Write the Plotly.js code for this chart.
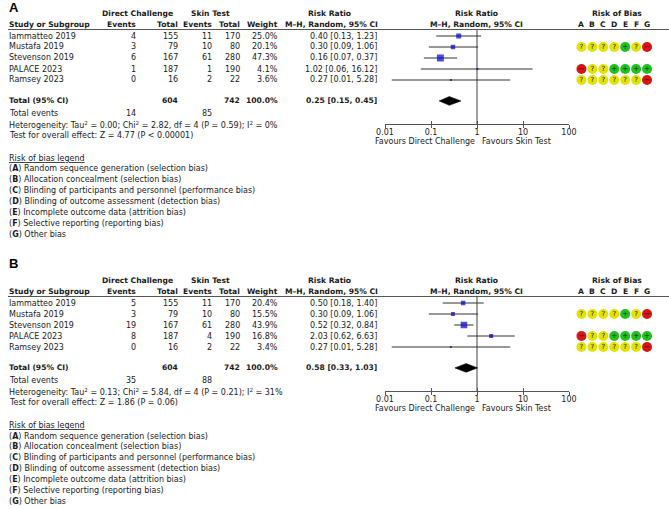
<!DOCTYPE html>
<html><head><meta charset="utf-8">
<script src="https://cdn.plot.ly/plotly-3.0.1.min.js"></script>
<style>html,body{margin:0;padding:0;background:#fff}</style>
</head><body><div id="chart" style="width:669px;height:509px"></div>
<script>
// ---------------- data ----------------
const studies = ['Iammatteo 2019', 'Mustafa 2019', 'Stevenson 2019', 'PALACE 2023', 'Ramsey 2023'];
const dcTotal = [155, 79, 167, 187, 16];
const stTotal = [170, 80, 280, 190, 22];
const grandTotals = [604, 742];
const totalWeight = 100.0;

// Panel A
const dcEventsA = [4, 3, 6, 1, 0];
const stEventsA = [11, 10, 61, 1, 2];
const weightA = [25.0, 20.1, 47.3, 4.1, 3.6];
const rrA = [0.40, 0.30, 0.16, 1.02, 0.27];
const lowA = [0.13, 0.09, 0.07, 0.06, 0.014];
const highA = [1.23, 1.06, 0.37, 16.12, 5.28];
const pooledA = [0.25, 0.15, 0.45];
const totalEventsA = [14, 85];
const hetA = ['0.00', '2.82', '4', '0.59', '0%'];
const zA = ['4.77', 'P < 0.00001'];

// Panel B
const dcEventsB = [5, 3, 19, 8, 0];
const stEventsB = [11, 10, 61, 4, 2];
const weightB = [20.4, 15.5, 43.9, 16.8, 3.4];
const rrB = [0.50, 0.30, 0.52, 2.03, 0.27];
const lowB = [0.18, 0.09, 0.32, 0.62, 0.014];
const highB = [1.40, 1.06, 0.84, 6.63, 5.28];
const pooledB = [0.58, 0.33, 1.03];
const totalEventsB = [35, 88];
const hetB = ['0.13', '5.84', '4', '0.21', '31%'];
const zB = ['1.86', 'P = 0.06'];

// Risk of bias
const robDomains = ['A', 'B', 'C', 'D', 'E', 'F', 'G'];
const robJudgements = [null, ['?','?','?','?','+','?','-'], null, ['-','?','?','+','+','+','+'], ['?','?','?','?','?','?','-']];
const robLegend = ['Random sequence generation (selection bias)', 'Allocation concealment (selection bias)',
  'Blinding of participants and personnel (performance bias)', 'Blinding of outcome assessment (detection bias)',
  'Incomplete outcome data (attrition bias)', 'Selective reporting (reporting bias)', 'Other bias'];
const axisTicks = [0.01, 0.1, 1, 10, 100];
const axisTickText = ['0.01', '0.1', '1', '10', '100'];

// ---------------- layout helpers ----------------
const W = 669, H = 509;
const FONT = 'DejaVu Sans';
const FS = 8;
const TXT = '#1a1a1a';
const X = p => p / W;
const Y = p => 1 - p / H;
const rowPy = r => 36 + 11 * r;
const robColor = {'?': '#e3e300', '+': '#1fc21f', '-': '#d81414'};
const robGlyph = {'?': '?', '+': '+', '-': '\u2212'};

const annotations = [];
const shapes = [];
const traces = [];
function ann(text, x, py, xanchor, opts) {
  annotations.push(Object.assign({
    text: text, xref: 'paper', yref: 'paper', x: X(x), y: Y(py), xanchor: xanchor, yanchor: 'middle',
    showarrow: false, borderpad: 0, font: {family: FONT, size: FS, color: TXT}
  }, opts || {}));
}
const bold = s => '<b>' + s + '</b>';
const BFONT = {family: FONT, size: 7.6, color: TXT};

const panels = [
  {label: 'A', off: 0, dcE: dcEventsA, stE: stEventsA, w: weightA, rr: rrA, lo: lowA, hi: highA,
   pooled: pooledA, te: totalEventsA, het: hetA, z: zA, xa: 'x', ya: 'y', xo: 'x3', xr: 'x5'},
  {label: 'B', off: 267, dcE: dcEventsB, stE: stEventsB, w: weightB, rr: rrB, lo: lowB, hi: highB,
   pooled: pooledB, te: totalEventsB, het: hetB, z: zB, xa: 'x2', ya: 'y2', xo: 'x4', xr: 'x6'}
];

const layout = {
  width: W, height: H, margin: {l: 0, r: 0, t: 0, b: 0},
  paper_bgcolor: '#fff', plot_bgcolor: 'rgba(0,0,0,0)', showlegend: false,
  annotations: annotations, shapes: shapes
};

const totalRow = 5.9;
panels.forEach((p, k) => {
  const o = p.off;
  const labelPy = k === 0 ? 7.5 : 263;
  ann(bold(p.label), 8, labelPy, 'left', {font: {family: 'Liberation Sans', size: 13, color: '#000'}});
  // headers
  const h1 = 13.3 + o, h2 = 24.3 + o;
  const hb = {font: BFONT};
  ann(bold('Direct Challenge'), 137, h1, 'center', hb);
  ann(bold('Skin Test'), 210, h1, 'center', hb);
  ann(bold('Risk Ratio'), 329, h1, 'center', hb);
  ann(bold('Risk Ratio'), 477, h1, 'center', hb);
  ann(bold('Risk of Bias'), 617, h1, 'center', hb);
  ann(bold('Study or Subgroup'), 8, h2, 'left', hb);
  ann(bold('Events'), 137, h2, 'right', hb);
  ann(bold('Total'), 179, h2, 'right', hb);
  ann(bold('Events'), 213, h2, 'right', hb);
  ann(bold('Total'), 241, h2, 'right', hb);
  ann(bold('Weight'), 279, h2, 'right', hb);
  ann(bold('M\u2013H, Random, 95% CI'), 331, h2, 'center', hb);
  ann(bold('M\u2013H, Random, 95% CI'), 477, h2, 'center', hb);
  robDomains.forEach((d, j) => {
    annotations.push({text: bold(d), xref: p.xr, yref: 'paper', x: j, y: Y(h2), xanchor: 'center', yanchor: 'middle',
      showarrow: false, borderpad: 0, font: BFONT});
  });
  shapes.push({type: 'line', xref: 'paper', yref: 'paper', x0: X(8), x1: 1, y0: Y(29.5 + o), y1: Y(29.5 + o),
    line: {color: '#555', width: 1}});
  // study rows
  studies.forEach((s, i) => {
    const py = rowPy(i) + o;
    ann(s, 8, py, 'left');
    ann(String(p.dcE[i]), 137, py, 'right');
    ann(String(dcTotal[i]), 179, py, 'right');
    ann(String(p.stE[i]), 213, py, 'right');
    ann(String(stTotal[i]), 241, py, 'right');
    ann(p.w[i].toFixed(1) + '%', 279, py, 'right');
    ann(p.rr[i].toFixed(2) + ' [' + p.lo[i].toFixed(2) + ', ' + p.hi[i].toFixed(2) + ']', 378, py, 'right');
  });
  // total row
  const tpy = rowPy(totalRow) + o;
  ann(bold('Total (95% CI)'), 8, tpy, 'left', hb);
  ann(bold(String(grandTotals[0])), 179, tpy, 'right', hb);
  ann(bold(String(grandTotals[1])), 241, tpy, 'right', hb);
  ann(bold(totalWeight.toFixed(1) + '%'), 279, tpy, 'right', hb);
  ann(bold(p.pooled[0].toFixed(2) + ' [' + p.pooled[1].toFixed(2) + ', ' + p.pooled[2].toFixed(2) + ']'), 378, tpy, 'right', hb);
  ann('Total events', 8, 113.7 + o, 'left');
  ann(String(p.te[0]), 137, 113.7 + o, 'right');
  ann(String(p.te[1]), 213, 113.7 + o, 'right');
  ann('Heterogeneity: Tau<sup>2</sup> = ' + p.het[0] + '; Chi<sup>2</sup> = ' + p.het[1] + ', df = ' + p.het[2] +
      ' (P = ' + p.het[3] + '); I<sup>2</sup> = ' + p.het[4], 8, 124.6 + o, 'left');
  ann('Test for overall effect: Z = ' + p.z[0] + ' (' + p.z[1] + ')', 8, 135.5 + o, 'left');
  ann('<u>Risk of bias legend</u>', 8, 158 + o, 'left');
  robLegend.forEach((t, j) => ann('(' + bold(robDomains[j]) + ') ' + t, 8, 169 + 10.9 * j + o, 'left'));
  // favours
  ann('Favours Direct Challenge', 475.5, 141.5 + o, 'right');
  ann('Favours Skin Test', 481, 141.5 + o, 'left');

  // axes
  const axN = k === 0 ? '' : '2';
  const ovN = k === 0 ? '3' : '4';
  const rbN = k === 0 ? '5' : '6';
  const yDom = [Y(124 + o), Y(29.5 + o)];
  layout['yaxis' + axN] = {domain: yDom, range: [(124 - 36) / 11, (29.5 - 36) / 11], visible: false, fixedrange: true};
  layout['xaxis' + axN] = {type: 'log', domain: [X(385), X(569)], range: [-2, 2], anchor: p.ya,
    showline: true, linecolor: '#555', linewidth: 1, ticks: 'inside', ticklen: 3, tickwidth: 1, tickcolor: '#555',
    tickvals: axisTicks, ticktext: axisTickText, tickfont: {family: FONT, size: FS, color: TXT},
    showgrid: false, zeroline: false, fixedrange: true, ticklabelstandoff: 0};
  layout['xaxis' + ovN] = {type: 'log', overlaying: p.xa, range: [-2, 2], anchor: p.ya,
    showline: false, ticks: 'outside', ticklen: 3, tickwidth: 1, tickcolor: '#555',
    tickvals: axisTicks, showticklabels: false, showgrid: false, zeroline: false, fixedrange: true};
  layout['xaxis' + rbN] = {domain: [X(576), X(652.5)], range: [-0.5, 6.5], anchor: p.ya, visible: false, fixedrange: true};

  // line of no effect
  shapes.push({type: 'line', xref: p.xa, yref: p.ya + ' domain', x0: 1, x1: 1, y0: 0, y1: 1,
    line: {color: '#888', width: 1.6}, layer: 'below'});

  // CI lines
  const lx = [], ly = [];
  studies.forEach((s, i) => { lx.push(p.lo[i], p.hi[i], null); ly.push(i, i, null); });
  traces.push({type: 'scatter', mode: 'lines', x: lx, y: ly, xaxis: p.xa, yaxis: p.ya,
    line: {color: '#333', width: 1}, hoverinfo: 'skip'});
  // squares
  traces.push({type: 'scatter', mode: 'markers', x: p.rr, y: studies.map((s, i) => i), xaxis: p.xa, yaxis: p.ya,
    marker: {symbol: 'square', color: '#0000cc', size: p.w.map(v => Math.max(2, Math.sqrt(v))), line: {width: 0}},
    hoverinfo: 'skip'});
  // diamond
  const dh = 0.4;
  traces.push({type: 'scatter', mode: 'lines', fill: 'toself', fillcolor: '#000',
    x: [p.pooled[1], p.pooled[0], p.pooled[2], p.pooled[0], p.pooled[1]],
    y: [totalRow, totalRow - dh, totalRow, totalRow + dh, totalRow],
    xaxis: p.xa, yaxis: p.ya, line: {color: '#000', width: 0.5}, hoverinfo: 'skip'});
  // overlay axis anchor trace
  traces.push({type: 'scatter', mode: 'markers', x: [1], y: [0], xaxis: p.xo, yaxis: p.ya,
    marker: {opacity: 0}, hoverinfo: 'skip'});
  // risk of bias circles
  const rx = [], ry = [], rc = [], rt = [];
  robJudgements.forEach((row, i) => {
    if (!row) return;
    row.forEach((j, d) => { rx.push(d); ry.push(i); rc.push(robColor[j]); rt.push(robGlyph[j]); });
  });
  traces.push({type: 'scatter', mode: 'markers+text', x: rx, y: ry, xaxis: p.xr, yaxis: p.ya,
    marker: {size: 10, color: rc, line: {width: 0}}, text: rt, textposition: 'middle center',
    textfont: {family: FONT, size: 7, color: '#111'}, hoverinfo: 'skip', cliponaxis: false});
});

Plotly.newPlot('chart', traces, layout, {staticPlot: true, displayModeBar: false});
</script></body></html>
